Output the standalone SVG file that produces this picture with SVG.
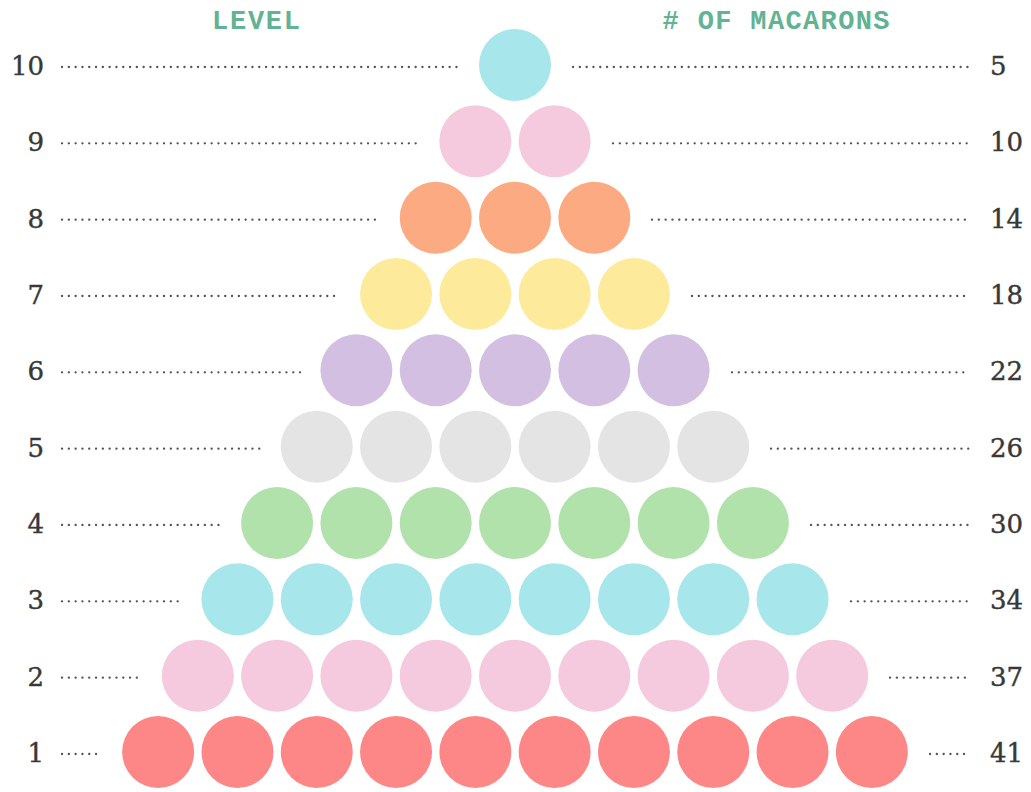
<svg xmlns="http://www.w3.org/2000/svg" width="1031" height="792" viewBox="0 0 1031 792">
<style>
.hdr{font-family:"Liberation Mono",monospace;font-weight:bold;font-size:27px;fill:#62b394;text-anchor:middle}
.num{font-family:"DejaVu Serif",serif;font-size:26px;fill:#383838;stroke:#383838;stroke-width:0.4}
.l{text-anchor:end}
.dot{stroke:#555;stroke-width:2.3;stroke-dasharray:0.1 6.7;stroke-linecap:round;fill:none}
.c10,.c3{fill:#a7e6ea}.c9,.c2{fill:#f5c9de}.c8{fill:#fcaa82}.c7{fill:#fdeb9b}.c6{fill:#d3bfe1}.c5{fill:#e4e4e4}.c4{fill:#b1e2ab}.c1{fill:#fd8686}
</style>
<rect width="1031" height="792" fill="#fff"/>
<text class="hdr" x="256" y="29" textLength="88">LEVEL</text>
<text class="hdr" x="776" y="29" textLength="227"># OF MACARONS</text>
<g id="connectors">
<line class="dot" x1="62" y1="67" x2="459" y2="67"/><line class="dot" x1="573" y1="67" x2="970" y2="67"/>
<line class="dot" x1="62" y1="143.3" x2="419" y2="143.3"/><line class="dot" x1="613" y1="143.3" x2="970" y2="143.3"/>
<line class="dot" x1="62" y1="219.7" x2="380" y2="219.7"/><line class="dot" x1="652" y1="219.7" x2="970" y2="219.7"/>
<line class="dot" x1="62" y1="296" x2="340" y2="296"/><line class="dot" x1="692" y1="296" x2="970" y2="296"/>
<line class="dot" x1="62" y1="372.3" x2="300" y2="372.3"/><line class="dot" x1="732" y1="372.3" x2="970" y2="372.3"/>
<line class="dot" x1="62" y1="448.7" x2="261" y2="448.7"/><line class="dot" x1="771" y1="448.7" x2="970" y2="448.7"/>
<line class="dot" x1="62" y1="525" x2="221" y2="525"/><line class="dot" x1="811" y1="525" x2="970" y2="525"/>
<line class="dot" x1="62" y1="601.3" x2="181" y2="601.3"/><line class="dot" x1="851" y1="601.3" x2="970" y2="601.3"/>
<line class="dot" x1="62" y1="677.7" x2="142" y2="677.7"/><line class="dot" x1="890" y1="677.7" x2="970" y2="677.7"/>
<line class="dot" x1="62" y1="754" x2="102" y2="754"/><line class="dot" x1="930" y1="754" x2="970" y2="754"/>
</g>
<g id="level10"><text class="num l" x="44" y="75">10</text><circle class="c10" cx="515" cy="65" r="36"/><text class="num" x="990" y="75">5</text></g>
<g id="level9"><text class="num l" x="44" y="151.3">9</text><circle class="c9" cx="475.35" cy="141.3" r="36"/><circle class="c9" cx="554.65" cy="141.3" r="36"/><text class="num" x="990" y="151.3">10</text></g>
<g id="level8"><text class="num l" x="44" y="227.7">8</text><circle class="c8" cx="435.7" cy="217.7" r="36"/><circle class="c8" cx="515" cy="217.7" r="36"/><circle class="c8" cx="594.3" cy="217.7" r="36"/><text class="num" x="990" y="227.7">14</text></g>
<g id="level7"><text class="num l" x="44" y="304">7</text><circle class="c7" cx="396.05" cy="294" r="36"/><circle class="c7" cx="475.35" cy="294" r="36"/><circle class="c7" cx="554.65" cy="294" r="36"/><circle class="c7" cx="633.95" cy="294" r="36"/><text class="num" x="990" y="304">18</text></g>
<g id="level6"><text class="num l" x="44" y="380.3">6</text><circle class="c6" cx="356.4" cy="370.3" r="36"/><circle class="c6" cx="435.7" cy="370.3" r="36"/><circle class="c6" cx="515" cy="370.3" r="36"/><circle class="c6" cx="594.3" cy="370.3" r="36"/><circle class="c6" cx="673.6" cy="370.3" r="36"/><text class="num" x="990" y="380.3">22</text></g>
<g id="level5"><text class="num l" x="44" y="456.7">5</text><circle class="c5" cx="316.75" cy="446.7" r="36"/><circle class="c5" cx="396.05" cy="446.7" r="36"/><circle class="c5" cx="475.35" cy="446.7" r="36"/><circle class="c5" cx="554.65" cy="446.7" r="36"/><circle class="c5" cx="633.95" cy="446.7" r="36"/><circle class="c5" cx="713.25" cy="446.7" r="36"/><text class="num" x="990" y="456.7">26</text></g>
<g id="level4"><text class="num l" x="44" y="533">4</text><circle class="c4" cx="277.1" cy="523" r="36"/><circle class="c4" cx="356.4" cy="523" r="36"/><circle class="c4" cx="435.7" cy="523" r="36"/><circle class="c4" cx="515" cy="523" r="36"/><circle class="c4" cx="594.3" cy="523" r="36"/><circle class="c4" cx="673.6" cy="523" r="36"/><circle class="c4" cx="752.9" cy="523" r="36"/><text class="num" x="990" y="533">30</text></g>
<g id="level3"><text class="num l" x="44" y="609.3">3</text><circle class="c3" cx="237.45" cy="599.3" r="36"/><circle class="c3" cx="316.75" cy="599.3" r="36"/><circle class="c3" cx="396.05" cy="599.3" r="36"/><circle class="c3" cx="475.35" cy="599.3" r="36"/><circle class="c3" cx="554.65" cy="599.3" r="36"/><circle class="c3" cx="633.95" cy="599.3" r="36"/><circle class="c3" cx="713.25" cy="599.3" r="36"/><circle class="c3" cx="792.55" cy="599.3" r="36"/><text class="num" x="990" y="609.3">34</text></g>
<g id="level2"><text class="num l" x="44" y="685.7">2</text><circle class="c2" cx="197.8" cy="675.7" r="36"/><circle class="c2" cx="277.1" cy="675.7" r="36"/><circle class="c2" cx="356.4" cy="675.7" r="36"/><circle class="c2" cx="435.7" cy="675.7" r="36"/><circle class="c2" cx="515" cy="675.7" r="36"/><circle class="c2" cx="594.3" cy="675.7" r="36"/><circle class="c2" cx="673.6" cy="675.7" r="36"/><circle class="c2" cx="752.9" cy="675.7" r="36"/><circle class="c2" cx="832.2" cy="675.7" r="36"/><text class="num" x="990" y="685.7">37</text></g>
<g id="level1"><text class="num l" x="44" y="762">1</text><circle class="c1" cx="158.15" cy="752" r="36"/><circle class="c1" cx="237.45" cy="752" r="36"/><circle class="c1" cx="316.75" cy="752" r="36"/><circle class="c1" cx="396.05" cy="752" r="36"/><circle class="c1" cx="475.35" cy="752" r="36"/><circle class="c1" cx="554.65" cy="752" r="36"/><circle class="c1" cx="633.95" cy="752" r="36"/><circle class="c1" cx="713.25" cy="752" r="36"/><circle class="c1" cx="792.55" cy="752" r="36"/><circle class="c1" cx="871.85" cy="752" r="36"/><text class="num" x="990" y="762">41</text></g>
</svg>
